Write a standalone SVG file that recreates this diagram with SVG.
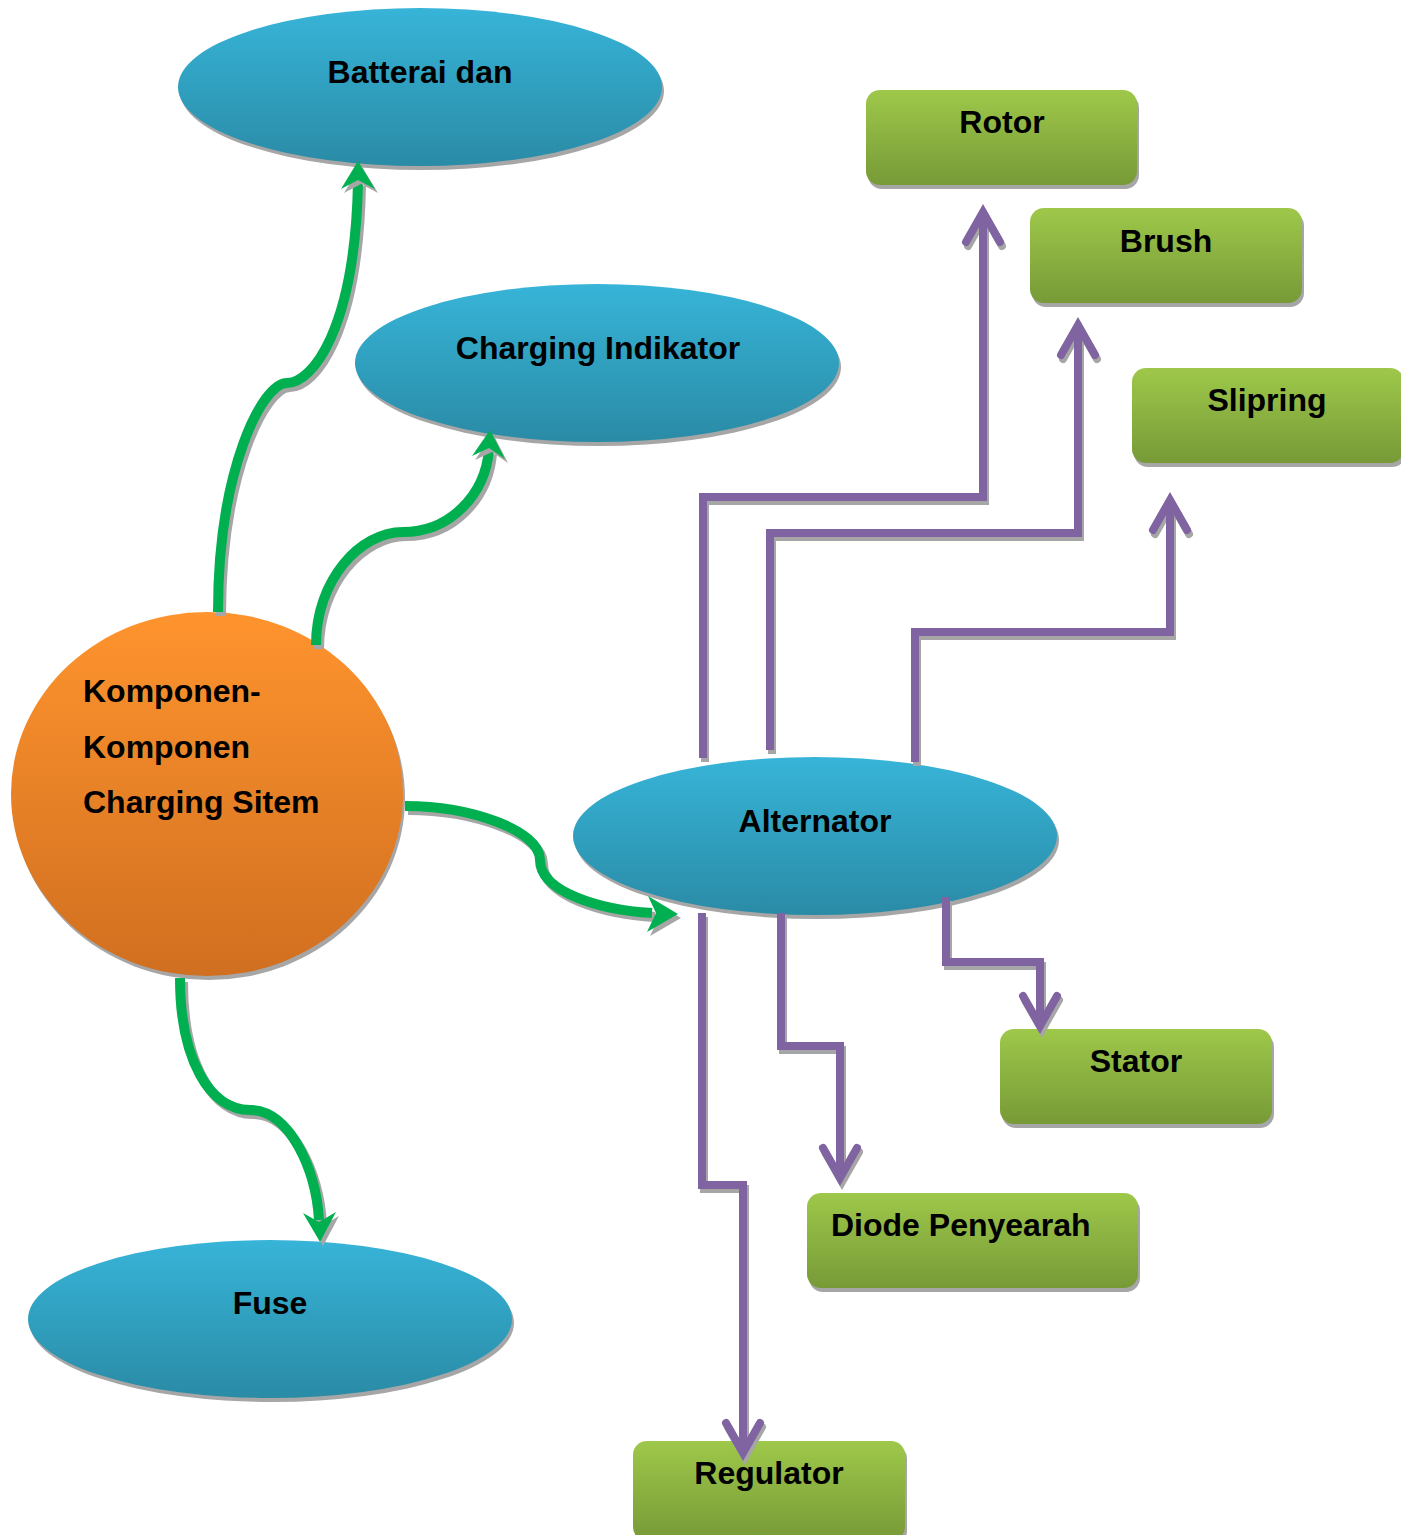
<svg xmlns="http://www.w3.org/2000/svg" width="1401" height="1535" viewBox="0 0 1401 1535">
<defs>
<linearGradient id="gBlue" x1="0" y1="0" x2="0" y2="1">
<stop offset="0" stop-color="#37B4D8"/><stop offset="1" stop-color="#2A8BA6"/>
</linearGradient>
<linearGradient id="gGreen" x1="0" y1="0" x2="0" y2="1">
<stop offset="0" stop-color="#9EC84A"/><stop offset="1" stop-color="#779A37"/>
</linearGradient>
<linearGradient id="gOrange" x1="0" y1="0" x2="0" y2="1">
<stop offset="0" stop-color="#FF942E"/><stop offset="1" stop-color="#D06F20"/>
</linearGradient>
</defs>
<style>
.sh{fill:#A6A6A6}
.ell{fill:url(#gBlue)}
.box{fill:url(#gGreen)}
.org{fill:url(#gOrange)}
text{font-family:"Liberation Sans",Arial,sans-serif;font-weight:bold;font-size:32px;fill:#000}
.g{fill:none;stroke:#00B050;stroke-width:10}
.gs{fill:none;stroke:#A6A6A6;stroke-width:10}
.gh{fill:#00B050}
.ghs{fill:#A6A6A6}
.p{fill:none;stroke:#8064A2;stroke-width:8;stroke-linejoin:miter}
.ps{fill:none;stroke:#A6A6A6;stroke-width:8}
.pa{fill:none;stroke:#8064A2;stroke-width:8;stroke-linecap:round;stroke-linejoin:miter}
.pas{fill:none;stroke:#A6A6A6;stroke-width:8;stroke-linecap:round}
</style>

<g id="batterai">
<ellipse class="sh" cx="422" cy="91" rx="242" ry="79"/>
<ellipse class="ell" cx="420" cy="87" rx="242" ry="79"/>
<text x="420" y="83" text-anchor="middle">Batterai dan</text>
</g>

<g id="charging-indikator">
<ellipse class="sh" cx="599" cy="367" rx="242" ry="79"/>
<ellipse class="ell" cx="597" cy="363" rx="242" ry="79"/>
<text x="598" y="359" text-anchor="middle">Charging Indikator</text>
</g>

<g id="alternator">
<ellipse class="sh" cx="817" cy="840" rx="242" ry="79"/>
<ellipse class="ell" cx="815" cy="836" rx="242" ry="79"/>
<text x="815" y="832" text-anchor="middle">Alternator</text>
</g>

<g id="fuse">
<ellipse class="sh" cx="272" cy="1323" rx="242" ry="79"/>
<ellipse class="ell" cx="270" cy="1319" rx="242" ry="79"/>
<text x="270" y="1314" text-anchor="middle">Fuse</text>
</g>

<g id="komponen">
<ellipse class="sh" cx="209" cy="798" rx="196" ry="182"/>
<ellipse class="org" cx="207" cy="794" rx="196" ry="182"/>
<text x="83" y="702">Komponen-</text>
<text x="83" y="758">Komponen</text>
<text x="83" y="813">Charging Sitem</text>
</g>

<g id="rotor">
<rect class="sh" x="868" y="94" width="271" height="95" rx="14"/>
<rect class="box" x="866" y="90" width="271" height="95" rx="14"/>
<text x="1002" y="133" text-anchor="middle">Rotor</text>
</g>

<g id="brush">
<rect class="sh" x="1032" y="212" width="272" height="95" rx="14"/>
<rect class="box" x="1030" y="208" width="272" height="95" rx="14"/>
<text x="1166" y="252" text-anchor="middle">Brush</text>
</g>

<g id="slipring">
<rect class="sh" x="1134" y="372" width="272" height="95" rx="14"/>
<rect class="box" x="1132" y="368" width="272" height="95" rx="14"/>
<text x="1267" y="411" text-anchor="middle">Slipring</text>
</g>

<g id="stator">
<rect class="sh" x="1002" y="1033" width="272" height="95" rx="14"/>
<rect class="box" x="1000" y="1029" width="272" height="95" rx="14"/>
<text x="1136" y="1072" text-anchor="middle">Stator</text>
</g>

<g id="diode">
<rect class="sh" x="809" y="1197" width="331" height="95" rx="14"/>
<rect class="box" x="807" y="1193" width="331" height="95" rx="14"/>
<text x="831" y="1236">Diode Penyearah</text>
</g>

<g id="regulator">
<rect class="sh" x="635" y="1445" width="272" height="100" rx="14"/>
<rect class="box" x="633" y="1441" width="272" height="100" rx="14"/>
<text x="769" y="1484" text-anchor="middle">Regulator</text>
</g>

<g id="connectors">
<g transform="translate(3,4)">
<path class="gs" d="M218,612 C218,470 262,383 287,383 C312,383 355,330 358,182"/>
<path class="gs" d="M316,645 C316,580 360,532 403,532 C450,532 485,495 489,450"/>
<path class="gs" d="M405,806 C470,806 540,830 540,860 C540,892 600,910 652,913"/>
<path class="gs" d="M180,978 C180,1060 210,1110 250,1110 C290,1110 316,1170 319,1220"/>
</g>
<path class="g" d="M218,612 C218,470 262,383 287,383 C312,383 355,330 358,182"/>
<path class="g" d="M316,645 C316,580 360,532 403,532 C450,532 485,495 489,450"/>
<path class="g" d="M405,806 C470,806 540,830 540,860 C540,892 600,910 652,913"/>
<path class="g" d="M180,978 C180,1060 210,1110 250,1110 C290,1110 316,1170 319,1220"/>
<g transform="translate(3,4)">
<path class="ghs" d="M358,161 L375,189 L358,180 L341,189 Z"/>
<path class="ghs" d="M490,430 L505,459 L489,448 L472,456 Z"/>
<path class="ghs" d="M678,914 L647,932 L656,913 L648,896 Z"/>
<path class="ghs" d="M320,1242 L303,1213 L319,1222 L336,1212 Z"/>
</g>
<path class="gh" d="M358,161 L375,189 L358,180 L341,189 Z"/>
<path class="gh" d="M490,430 L505,459 L489,448 L472,456 Z"/>
<path class="gh" d="M678,914 L647,932 L656,913 L648,896 Z"/>
<path class="gh" d="M320,1242 L303,1213 L319,1222 L336,1212 Z"/>

<g transform="translate(2,4)">
<path class="ps" d="M703,758 L703,497 L983,497 L983,214"/>
<path class="ps" d="M770,750 L770,533 L1078,533 L1078,327"/>
<path class="ps" d="M915,762 L915,632 L1170,632 L1170,502"/>
<path class="ps" d="M702,913 L702,1185 L743,1185 L743,1451"/>
<path class="ps" d="M781,913 L781,1046 L840,1046 L840,1176"/>
<path class="ps" d="M946,897 L946,962 L1040,962 L1040,1024"/>
<path class="pas" d="M966,242 L983,212 L1000,242"/>
<path class="pas" d="M1061,355 L1078,325 L1095,355"/>
<path class="pas" d="M1153,530 L1170,500 L1187,530"/>
<path class="pas" d="M726,1423 L743,1453 L760,1423"/>
<path class="pas" d="M823,1148 L840,1178 L857,1148"/>
<path class="pas" d="M1023,996 L1040,1026 L1057,996"/>
</g>
<path class="p" d="M703,758 L703,497 L983,497 L983,214"/>
<path class="p" d="M770,750 L770,533 L1078,533 L1078,327"/>
<path class="p" d="M915,762 L915,632 L1170,632 L1170,502"/>
<path class="p" d="M702,913 L702,1185 L743,1185 L743,1451"/>
<path class="p" d="M781,913 L781,1046 L840,1046 L840,1176"/>
<path class="p" d="M946,897 L946,962 L1040,962 L1040,1024"/>
<path class="pa" d="M966,242 L983,212 L1000,242"/>
<path class="pa" d="M1061,355 L1078,325 L1095,355"/>
<path class="pa" d="M1153,530 L1170,500 L1187,530"/>
<path class="pa" d="M726,1423 L743,1453 L760,1423"/>
<path class="pa" d="M823,1148 L840,1178 L857,1148"/>
<path class="pa" d="M1023,996 L1040,1026 L1057,996"/>
</g>
</svg>
